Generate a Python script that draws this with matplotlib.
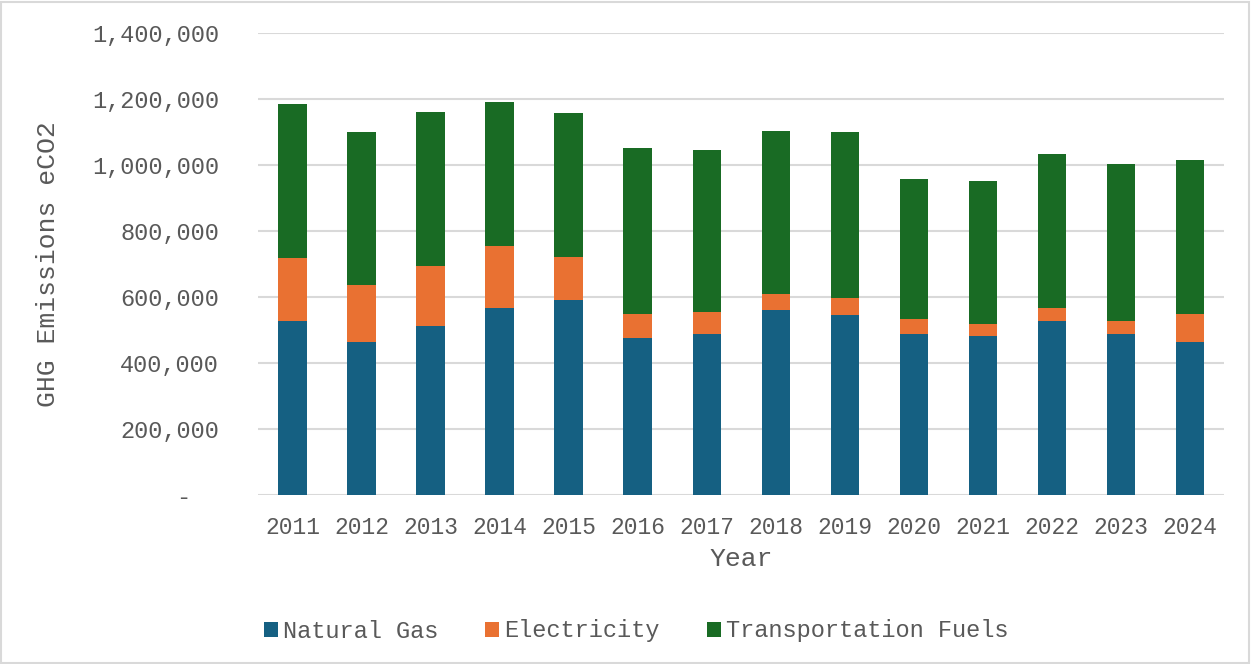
import matplotlib.pyplot as plt
import numpy as np
from matplotlib.patches import Rectangle
from matplotlib.ticker import FuncFormatter, MultipleLocator

years = ["2011", "2012", "2013", "2014", "2015", "2016", "2017",
         "2018", "2019", "2020", "2021", "2022", "2023", "2024"]
natural_gas = [529000, 463000, 511000, 566000, 590000, 475000, 487000,
               560000, 547000, 487000, 481000, 529000, 487000, 463000]
electricity = [188000, 175000, 182000, 188000, 133000, 73000, 67000,
               48000, 49000, 48000, 36000, 37000, 42000, 85000]
transportation = [467000, 461000, 467000, 436000, 436000, 503000, 491000,
                  497000, 503000, 424000, 436000, 467000, 473000, 467000]

colors = ["#156082", "#e97132", "#196b24"]
labels = ["Natural Gas", "Electricity", "Transportation Fuels"]
text_color = "#595959"

plt.rcParams['font.family'] = ['Liberation Mono', 'DejaVu Sans Mono']

fig = plt.figure(figsize=(12.52, 6.64), dpi=100)
ax = fig.add_axes([0.206, 0.2545, 0.772, 0.6955])

x = np.arange(len(years))
gas = np.array(natural_gas)
elec = np.array(electricity)
trans = np.array(transportation)

ax.bar(x, gas, width=0.41, color=colors[0], label=labels[0], zorder=3)
ax.bar(x, elec, width=0.41, bottom=gas, color=colors[1], label=labels[1], zorder=3)
ax.bar(x, trans, width=0.41, bottom=gas + elec, color=colors[2], label=labels[2], zorder=3)

ax.set_xlim(-0.5, len(years) - 0.5)
ax.set_ylim(0, 1400000)
ax.yaxis.set_major_locator(MultipleLocator(200000))
ax.yaxis.set_major_formatter(FuncFormatter(lambda v, p: f"{v:,.0f}" if v else "-  "))
ax.set_xticks(x)
ax.set_xticklabels(years)

ax.grid(True, axis='y', color="#d9d9d9", linewidth=1.5, zorder=0)
for s in ax.spines.values():
    s.set_visible(False)
ax.tick_params(axis='both', length=0, colors=text_color)
ax.tick_params(axis='x', labelsize=16.5, pad=15)
ax.tick_params(axis='y', labelsize=17, pad=28)

ax.set_xlabel("Year", fontsize=19, color=text_color, labelpad=6)
ax.set_ylabel("GHG Emissions eCO2", fontsize=19, color=text_color, labelpad=23)

fig.legend(loc='center', bbox_to_anchor=(636 / 1252, 1 - 631 / 664), ncol=3,
           frameon=False, fontsize=17, labelcolor=text_color,
           handlelength=0.6, handleheight=0.6, handletextpad=0.2, columnspacing=2.0)

# light outer border of the chart area
fig.patches.append(Rectangle((0.001, 0.002), 0.997, 0.995, transform=fig.transFigure,
                             fill=False, edgecolor="#d9d9d9", linewidth=1.5))

fig.savefig("out.png", dpi=100)
